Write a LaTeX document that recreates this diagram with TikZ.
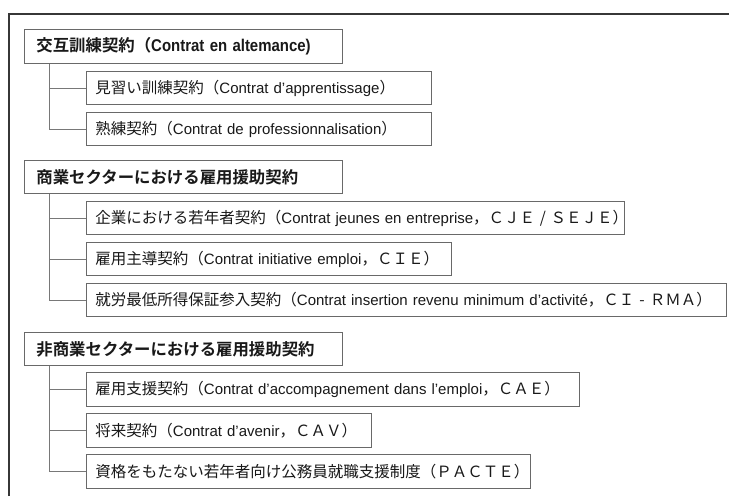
\documentclass[tikz,border=0pt]{standalone}
\usepackage{fontspec}
\setmainfont{Liberation Sans}
\newfontfamily\jp{Noto Sans CJK JP}[BoldFont={Noto Sans CJK JP Bold}]
\newfontfamily\hdlat{Liberation Sans}[FakeStretch=0.88]
\newcommand\J[1]{{\jp\fontsize{15.5}{18}\selectfont #1}}
\newcommand\JH[1]{{\jp\fontsize{16.4}{18}\selectfont #1}}
\newcommand\fw[1]{\makebox[1em]{#1}}
\definecolor{boxgray}{RGB}{105,105,105}
\definecolor{framegray}{RGB}{55,55,55}
\definecolor{conngray}{RGB}{120,120,120}
\definecolor{txt}{RGB}{25,25,25}
\begin{document}
\begin{tikzpicture}[x=1pt,y=-1pt,
  hdr/.style={draw=boxgray, line width=0.9pt, anchor=north west, inner xsep=12pt, inner ysep=0pt,
    text=txt, align=left, font=\fontsize{16}{18}\selectfont\bfseries},
  sub/.style={draw=boxgray, line width=0.9pt, anchor=north west, inner xsep=9pt, inner ysep=0pt,
    text=txt, align=left, font=\fontsize{15}{18}\selectfont},
  conn/.style={draw=conngray, line width=0.9pt}]
\useasboundingbox (0,0) rectangle (729,496);
\fill[white] (0,0) rectangle (729,496);
\draw[framegray, line width=1.3pt] (9,496) -- (9,14) -- (729,14);

% section 1
\node[hdr, text width=294pt, minimum height=34pt] (h1) at (24,29)
  {\mbox{\JH{交互訓練契約（}{\hdlat\fontsize{17}{18}\selectfont Contrat en altemance)}}};
\node[sub, text width=327pt, minimum height=33pt] (c11) at (86,71)
  {\mbox{\J{見習い訓練契約（}Contrat d’apprentissage\J{）}}};
\node[sub, text width=327pt, minimum height=33pt] (c12) at (86,112)
  {\mbox{\J{熟練契約（}Contrat de professionnalisation\J{）}}};
\coordinate (t1) at ([xshift=25pt]h1.south west);
\draw[conn] (t1) |- (c12.west);
\draw[conn] (c11.west) -- (c11.west -| t1);

% section 2
\node[hdr, text width=294pt, minimum height=33pt] (h2) at (24,160)
  {\mbox{\JH{商業セクターにおける雇用援助契約}}};
\node[sub, text width=520pt, minimum height=33pt] (c21) at (86,201)
  {\mbox{\J{企業における若年者契約（}Contrat jeunes en entreprise\J{，ＣＪＥ\fw{/}ＳＥＪＥ）}}};
\node[sub, text width=347pt, minimum height=33pt] (c22) at (86,242)
  {\mbox{\J{雇用主導契約（}Contrat initiative emploi\J{，ＣＩＥ）}}};
\node[sub, text width=622pt, minimum height=33pt] (c23) at (86,283)
  {\mbox{\J{就労最低所得保証参入契約（}Contrat insertion revenu minimum d’activité\J{，ＣＩ\fw{-}ＲＭＡ）}}};
\coordinate (t2) at ([xshift=25pt]h2.south west);
\draw[conn] (t2) |- (c23.west);
\draw[conn] (c21.west) -- (c21.west -| t2);
\draw[conn] (c22.west) -- (c22.west -| t2);

% section 3
\node[hdr, text width=294pt, minimum height=33pt] (h3) at (24,332)
  {\mbox{\JH{非商業セクターにおける雇用援助契約}}};
\node[sub, text width=475pt, minimum height=34pt] (c31) at (86,372)
  {\mbox{\J{雇用支援契約（}Contrat d’accompagnement dans l’emploi\J{，ＣＡＥ）}}};
\node[sub, text width=267pt, minimum height=34pt] (c32) at (86,413)
  {\mbox{\J{将来契約（}Contrat d’avenir\J{，ＣＡＶ）}}};
\node[sub, text width=426pt, minimum height=34pt] (c33) at (86,454)
  {\mbox{\J{資格をもたない若年者向け公務員就職支援制度（ＰＡＣＴＥ）}}};
\coordinate (t3) at ([xshift=25pt]h3.south west);
\draw[conn] (t3) |- (c33.west);
\draw[conn] (c31.west) -- (c31.west -| t3);
\draw[conn] (c32.west) -- (c32.west -| t3);
\end{tikzpicture}
\end{document}
